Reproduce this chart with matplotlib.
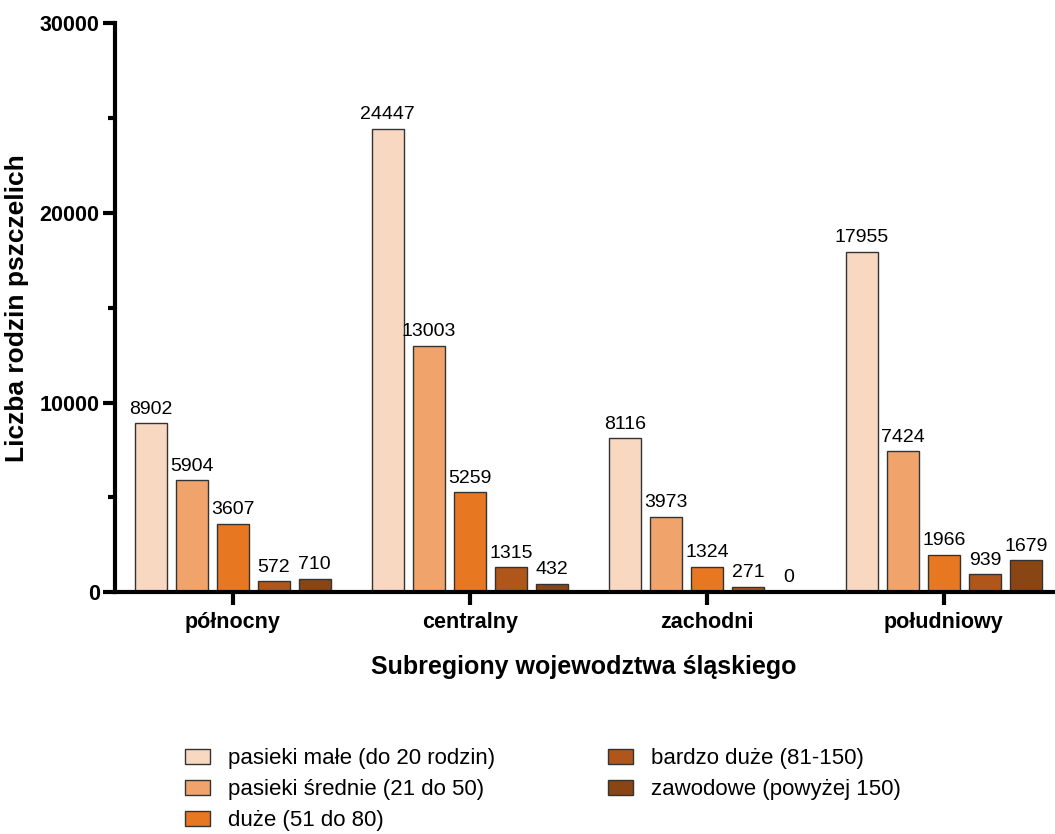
import matplotlib.pyplot as plt
import numpy as np

plt.rcParams['font.family'] = ['Liberation Sans', 'DejaVu Sans']

regiony = ['północny', 'centralny', 'zachodni', 'południowy']
kategorie = ['pasieki małe (do 20 rodzin)', 'pasieki średnie (21 do 50)',
             'duże (51 do 80)', 'bardzo duże (81-150)', 'zawodowe (powyżej 150)']
male = [8902, 24447, 8116, 17955]
srednie = [5904, 13003, 3973, 7424]
duze = [3607, 5259, 1324, 1966]
bardzo_duze = [572, 1315, 271, 939]
zawodowe = [710, 432, 0, 1679]
serie = [male, srednie, duze, bardzo_duze, zawodowe]
kolory = ['#F8D8C0', '#F0A46C', '#E87722', '#B0561A', '#8A4514']

fig = plt.figure(figsize=(10.55, 8.34), dpi=100)
ax = fig.add_axes([0.109, 0.29, 0.889, 0.682])

x = np.arange(len(regiony))
krok = 0.173
szer = 0.135
for i, (s, k) in enumerate(zip(serie, kolory)):
    pos = x + (i - 2) * krok
    ax.bar(pos, s, szer, color=k, edgecolor='#333333', linewidth=1.0,
           label=kategorie[i])
    for p, v in zip(pos, s):
        ax.text(p, v + 300, str(v), ha='center', va='bottom', fontsize=14)

ax.set_xlim(-0.497, 3.46)
ax.set_ylim(0, 30000)
ax.set_yticks([0, 10000, 20000, 30000])
ax.set_yticks([5000, 15000, 25000], minor=True)
ax.set_xticks(x)
ax.set_xticklabels(regiony, fontweight='bold', fontsize=15.5)
for t in ax.get_yticklabels():
    t.set_fontweight('bold')
    t.set_fontsize(15.5)
ax.tick_params(axis='both', which='major', width=3, length=9)
ax.tick_params(axis='y', which='minor', width=3, length=5)
ax.tick_params(axis='y', pad=2)
ax.tick_params(axis='x', pad=5)

for sp in ['top', 'right']:
    ax.spines[sp].set_visible(False)
for sp in ['left', 'bottom']:
    ax.spines[sp].set_linewidth(3)

ax.set_ylabel('Liczba rodzin pszczelich', fontweight='bold', fontsize=19, labelpad=8)
ax.set_xlabel('Subregiony wojewodztwa śląskiego', fontweight='bold', fontsize=18,
              labelpad=16)

fig.legend(loc='upper left', bbox_to_anchor=(185 / 1055, 1 - 748 / 834), ncol=2,
           frameon=False, fontsize=16, handlelength=1.13, handleheight=0.68,
           columnspacing=5.1, labelspacing=0.45, handletextpad=0.8, borderpad=0,
           borderaxespad=0)

fig.savefig('out.png', dpi=100)
